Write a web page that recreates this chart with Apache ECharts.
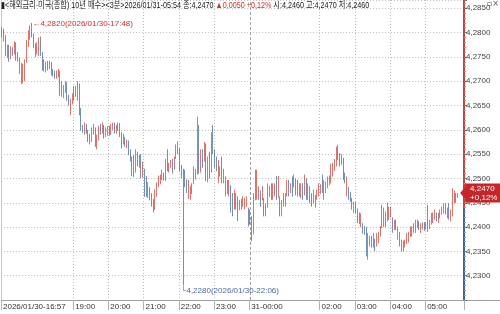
<!DOCTYPE html>
<html><head><meta charset="utf-8">
<script src="https://cdn.jsdelivr.net/npm/echarts@6/dist/echarts.min.js"></script>
<style>html,body{margin:0;padding:0;background:#fff}#c{width:500px;height:314px}</style>
</head><body><div id="c"></div>
<script>
// ---- data (3-minute candles, 2026/01/30 16:57 -> 2026/01/31 05:54) ----
const startHour = 16, startMinute = 57, stepMinutes = 3, padCount = 3;
const opens = [
4.2800,4.2805,4.2790,4.2760,4.2770,4.2745,4.2765,4.2758,4.2778,4.2750,
4.2745,4.2705,4.2712,4.2722,4.2740,4.2780,4.2798,4.2812,4.2795,4.2772,
4.2765,4.2758,4.2790,4.2758,4.2730,4.2725,4.2735,4.2728,4.2738,4.2718,
4.2715,4.2708,4.2712,4.2720,4.2685,4.2675,4.2680,4.2695,4.2668,4.2650,
4.2660,4.2672,4.2685,4.2670,4.2690,4.2640,4.2605,4.2600,4.2610,4.2598,
4.2585,4.2578,4.2598,4.2600,4.2575,4.2585,4.2605,4.2598,4.2608,4.2590,
4.2595,4.2600,4.2592,4.2608,4.2612,4.2598,4.2600,4.2612,4.2590,4.2575,
4.2582,4.2570,4.2575,4.2555,4.2540,4.2510,4.2515,4.2548,4.2530,4.2535,
4.2505,4.2518,4.2470,4.2468,4.2478,4.2462,4.2450,4.2440,4.2470,4.2488,
4.2492,4.2500,4.2508,4.2500,4.2555,4.2515,4.2525,4.2538,4.2520,4.2545,
4.2555,4.2560,4.2520,4.2508,4.2500,4.2495,4.2475,4.2462,4.2485,4.2490,
4.2505,4.2512,4.2600,4.2515,4.2555,4.2540,4.2568,4.2505,4.2540,4.2515,
4.2590,4.2555,4.2530,4.2495,4.2510,4.2540,4.2495,4.2482,4.2495,4.2470,
4.2484,4.2450,4.2440,4.2465,4.2455,4.2438,4.2440,4.2445,4.2442,4.2448,
4.2436,4.2420,4.2415,4.2390,4.2460,4.2470,4.2462,4.2470,4.2458,4.2456,
4.2440,4.2442,4.2470,4.2480,4.2462,4.2470,4.2500,4.2465,4.2455,4.2430,
4.2445,4.2450,4.2465,4.2490,4.2475,4.2498,4.2485,4.2495,4.2490,4.2468,
4.2465,4.2488,4.2470,4.2495,4.2465,4.2480,4.2462,4.2450,4.2463,4.2458,
4.2465,4.2475,4.2505,4.2465,4.2478,4.2485,4.2492,4.2495,4.2510,4.2520,
4.2530,4.2562,4.2548,4.2532,4.2540,4.2508,4.2480,4.2480,4.2470,4.2458,
4.2435,4.2448,4.2435,4.2418,4.2405,4.2405,4.2398,4.2392,4.2355,4.2362,
4.2380,4.2362,4.2374,4.2362,4.2375,4.2385,4.2400,4.2405,4.2430,4.2415,
4.2418,4.2425,4.2418,4.2398,4.2412,4.2385,4.2388,4.2372,4.2365,4.2360,
4.2368,4.2372,4.2385,4.2382,4.2390,4.2392,4.2400,4.2408,4.2392,4.2398,
4.2408,4.2398,4.2418,4.2398,4.2408,4.2412,4.2418,4.2428,4.2412,4.2420,
4.2428,4.2432,4.2446,4.2425,4.2445,4.2420,4.2428,4.2460,4.2468,4.2460];
const closes = [
4.2805,4.2790,4.2760,4.2770,4.2745,4.2765,4.2758,4.2778,4.2750,4.2745,
4.2722,4.2730,4.2725,4.2740,4.2780,4.2800,4.2812,4.2795,4.2772,4.2765,
4.2775,4.2788,4.2758,4.2730,4.2725,4.2735,4.2728,4.2738,4.2718,4.2715,
4.2708,4.2718,4.2720,4.2685,4.2675,4.2680,4.2695,4.2668,4.2655,4.2660,
4.2672,4.2685,4.2675,4.2695,4.2640,4.2605,4.2600,4.2610,4.2598,4.2585,
4.2578,4.2598,4.2605,4.2575,4.2585,4.2605,4.2598,4.2608,4.2590,4.2595,
4.2600,4.2592,4.2608,4.2612,4.2598,4.2605,4.2612,4.2590,4.2575,4.2582,
4.2570,4.2575,4.2555,4.2540,4.2510,4.2505,4.2548,4.2530,4.2535,4.2505,
4.2518,4.2470,4.2468,4.2475,4.2462,4.2450,4.2438,4.2470,4.2488,4.2500,
4.2505,4.2515,4.2500,4.2535,4.2520,4.2530,4.2535,4.2515,4.2540,4.2565,
4.2570,4.2520,4.2508,4.2500,4.2488,4.2475,4.2480,4.2480,4.2472,4.2520,
4.2515,4.2610,4.2515,4.2540,4.2528,4.2568,4.2505,4.2540,4.2515,4.2590,
4.2555,4.2528,4.2520,4.2530,4.2522,4.2495,4.2510,4.2495,4.2475,4.2480,
4.2440,4.2430,4.2465,4.2440,4.2420,4.2450,4.2455,4.2455,4.2456,4.2458,
4.2408,4.2412,4.2385,4.2465,4.2512,4.2500,4.2480,4.2448,4.2478,4.2425,
4.2428,4.2485,4.2482,4.2465,4.2480,4.2488,4.2462,4.2500,4.2440,4.2450,
4.2460,4.2465,4.2490,4.2470,4.2485,4.2470,4.2500,4.2475,4.2468,4.2485,
4.2485,4.2462,4.2500,4.2462,4.2480,4.2455,4.2448,4.2470,4.2445,4.2470,
4.2485,4.2486,4.2472,4.2490,4.2488,4.2500,4.2502,4.2525,4.2528,4.2535,
4.2555,4.2545,4.2530,4.2542,4.2505,4.2495,4.2495,4.2460,4.2458,4.2440,
4.2445,4.2432,4.2410,4.2412,4.2418,4.2390,4.2388,4.2345,4.2378,4.2374,
4.2362,4.2385,4.2355,4.2380,4.2385,4.2400,4.2430,4.2432,4.2405,4.2430,
4.2432,4.2438,4.2392,4.2412,4.2398,4.2395,4.2365,4.2355,4.2358,4.2372,
4.2385,4.2385,4.2395,4.2398,4.2405,4.2408,4.2410,4.2398,4.2405,4.2408,
4.2396,4.2405,4.2398,4.2412,4.2425,4.2420,4.2430,4.2415,4.2425,4.2432,
4.2440,4.2445,4.2432,4.2435,4.2420,4.2430,4.2465,4.2468,4.2455,4.2470];
const lows = [
4.2790,4.2782,4.2752,4.2748,4.2740,4.2745,4.2752,4.2755,4.2742,4.2740,
4.2715,4.2694,4.2696,4.2700,4.2738,4.2770,4.2785,4.2790,4.2768,4.2750,
4.2755,4.2752,4.2752,4.2722,4.2720,4.2718,4.2722,4.2725,4.2712,4.2710,
4.2705,4.2705,4.2708,4.2670,4.2668,4.2665,4.2676,4.2660,4.2650,4.2630,
4.2652,4.2660,4.2668,4.2660,4.2630,4.2598,4.2594,4.2590,4.2592,4.2575,
4.2570,4.2575,4.2590,4.2565,4.2560,4.2578,4.2590,4.2592,4.2582,4.2585,
4.2588,4.2588,4.2590,4.2600,4.2592,4.2592,4.2598,4.2585,4.2562,4.2570,
4.2565,4.2562,4.2548,4.2535,4.2505,4.2503,4.2512,4.2525,4.2522,4.2500,
4.2502,4.2462,4.2462,4.2460,4.2455,4.2442,4.2430,4.2435,4.2462,4.2482,
4.2488,4.2497,4.2496,4.2495,4.2515,4.2512,4.2522,4.2510,4.2518,4.2540,
4.2550,4.2515,4.2500,4.2280,4.2482,4.2470,4.2458,4.2456,4.2468,4.2488,
4.2498,4.2508,4.2510,4.2512,4.2522,4.2535,4.2495,4.2492,4.2500,4.2512,
4.2550,4.2522,4.2515,4.2490,4.2504,4.2490,4.2490,4.2463,4.2468,4.2463,
4.2430,4.2422,4.2436,4.2436,4.2412,4.2435,4.2436,4.2442,4.2436,4.2442,
4.2401,4.2405,4.2371,4.2385,4.2455,4.2456,4.2456,4.2442,4.2455,4.2422,
4.2422,4.2440,4.2462,4.2456,4.2456,4.2463,4.2456,4.2460,4.2422,4.2422,
4.2442,4.2442,4.2463,4.2463,4.2470,4.2463,4.2482,4.2465,4.2463,4.2463,
4.2460,4.2456,4.2465,4.2456,4.2456,4.2449,4.2442,4.2449,4.2440,4.2456,
4.2463,4.2468,4.2470,4.2456,4.2470,4.2480,4.2486,4.2490,4.2504,4.2515,
4.2525,4.2538,4.2525,4.2528,4.2497,4.2490,4.2463,4.2456,4.2452,4.2436,
4.2429,4.2428,4.2408,4.2406,4.2400,4.2386,4.2384,4.2340,4.2333,4.2360,
4.2358,4.2358,4.2350,4.2360,4.2367,4.2380,4.2398,4.2400,4.2400,4.2412,
4.2415,4.2420,4.2388,4.2394,4.2394,4.2374,4.2360,4.2350,4.2350,4.2358,
4.2365,4.2368,4.2380,4.2380,4.2388,4.2388,4.2398,4.2394,4.2388,4.2395,
4.2392,4.2395,4.2390,4.2396,4.2405,4.2408,4.2415,4.2412,4.2408,4.2418,
4.2425,4.2428,4.2426,4.2418,4.2415,4.2412,4.2422,4.2449,4.2450,4.2460];
const highs = [
4.2812,4.2808,4.2795,4.2775,4.2775,4.2772,4.2770,4.2782,4.2780,4.2760,
4.2748,4.2738,4.2735,4.2745,4.2785,4.2805,4.2815,4.2820,4.2798,4.2778,
4.2780,4.2790,4.2792,4.2760,4.2745,4.2740,4.2742,4.2742,4.2740,4.2725,
4.2722,4.2722,4.2725,4.2722,4.2700,4.2692,4.2700,4.2698,4.2672,4.2664,
4.2675,4.2690,4.2690,4.2700,4.2695,4.2645,4.2610,4.2615,4.2612,4.2600,
4.2592,4.2605,4.2612,4.2605,4.2590,4.2608,4.2612,4.2615,4.2610,4.2605,
4.2608,4.2608,4.2612,4.2615,4.2615,4.2610,4.2615,4.2614,4.2595,4.2592,
4.2585,4.2580,4.2578,4.2560,4.2545,4.2548,4.2560,4.2555,4.2548,4.2550,
4.2535,4.2520,4.2505,4.2492,4.2482,4.2470,4.2458,4.2478,4.2492,4.2506,
4.2508,4.2518,4.2512,4.2540,4.2560,4.2532,4.2538,4.2540,4.2545,4.2570,
4.2576,4.2562,4.2528,4.2520,4.2518,4.2498,4.2497,4.2484,4.2490,4.2525,
4.2520,4.2627,4.2610,4.2560,4.2560,4.2575,4.2572,4.2545,4.2555,4.2595,
4.2610,4.2560,4.2545,4.2538,4.2525,4.2545,4.2520,4.2504,4.2497,4.2497,
4.2486,4.2470,4.2477,4.2470,4.2463,4.2456,4.2458,4.2463,4.2460,4.2463,
4.2440,4.2436,4.2422,4.2470,4.2518,4.2518,4.2484,4.2475,4.2484,4.2460,
4.2448,4.2490,4.2485,4.2490,4.2490,4.2490,4.2505,4.2505,4.2463,4.2456,
4.2470,4.2470,4.2497,4.2497,4.2490,4.2504,4.2508,4.2500,4.2497,4.2490,
4.2490,4.2490,4.2508,4.2500,4.2490,4.2484,4.2470,4.2477,4.2466,4.2477,
4.2490,4.2488,4.2508,4.2497,4.2494,4.2504,4.2506,4.2530,4.2532,4.2540,
4.2565,4.2569,4.2552,4.2550,4.2542,4.2512,4.2504,4.2482,4.2472,4.2460,
4.2452,4.2452,4.2438,4.2430,4.2428,4.2408,4.2402,4.2400,4.2388,4.2382,
4.2382,4.2388,4.2376,4.2388,4.2390,4.2402,4.2446,4.2440,4.2432,4.2450,
4.2442,4.2442,4.2420,4.2415,4.2415,4.2401,4.2390,4.2374,4.2372,4.2374,
4.2388,4.2390,4.2401,4.2402,4.2408,4.2415,4.2415,4.2412,4.2408,4.2410,
4.2410,4.2410,4.2446,4.2415,4.2429,4.2430,4.2436,4.2430,4.2429,4.2436,
4.2442,4.2449,4.2449,4.2440,4.2449,4.2436,4.2480,4.2475,4.2470,4.2470];

const tickTimes  = ['16:57','19:00','20:00','21:00','22:00','23:00','00:00','02:00','03:00','04:00','05:00'];
const tickLabels = ['2026/01/30-16:57','19:00','20:00','21:00','22:00','23:00','31-00:00','02:00','03:00','04:00','05:00'];
const yTicks = [4.2300,4.2350,4.2400,4.2450,4.2500,4.2550,4.2600,4.2650,4.2700,4.2750,4.2800,4.2850];
const yMin = 4.2250, yMax = 4.2867, yStep = 0.005;
const axisSplitPrice = 4.2442;
const highMark = {time:'17:48', value:4.2820, label:'2026/01/30-17:48'};
const lowMark  = {time:'22:06', value:4.2280, label:'2026/01/30-22:06'};
const lastInfo = {time:'2026/01/31-05:54', close:4.2470, change:0.0050, pct:0.12, open:4.2460, high:4.2470, low:4.2460};

// ---- build ----
const pad2 = n => String(n).padStart(2,'0');
const categories = [];
for (let k = 0; k < opens.length + padCount; k++) {
  const t = startHour*60 + startMinute + k*stepMinutes;
  categories.push(pad2(Math.floor(t/60)%24) + ':' + pad2(t%60));
}
const candles = opens.map((o,i)=>[o, closes[i], lows[i], highs[i]]);
const fmt = v => v.toFixed(4).replace('.', ',');
const pctText = '+' + lastInfo.pct.toFixed(2).replace('.', ',') + '%';
const labelOf = {}; tickTimes.forEach((t,i)=>labelOf[t]=tickLabels[i]);

const W = 500, H = 314, GR = 36, GB = 14;
const RED='#cf3f35', BLUE='#3f63a3', BOXRED='#c4262a';
const FONT="'Liberation Sans','Noto Sans CJK KR',sans-serif";
const f = (yMax-axisSplitPrice)/(yMax-yMin);

const chart = echarts.init(document.getElementById('c'), null, {renderer:'canvas'});
chart.setOption({
  animation:false,
  graphic:[{
    type:'text', left:1, top:1, scaleX:0.8, z:10, silent:true,
    style:{
      text:'{b|▮}{t|<해외금리-미국(종합) 10년 매수><3분>'+lastInfo.time+' 종:'+fmt(lastInfo.close)+' }{r|▲'+fmt(lastInfo.change)+' '+pctText+'}{t| 시:'+fmt(lastInfo.open)+' 고:'+fmt(lastInfo.high)+' 저:'+fmt(lastInfo.low)+'}',
      rich:{
        b:{fontSize:9,fill:'#222',fontFamily:'DejaVu Sans'},
        t:{fontSize:9,fill:'#1a1a1a',fontFamily:FONT},
        r:{fontSize:9,fill:'#d0302a',fontFamily:FONT}
      }
    }
  },{
    type:'text', right:1, top:0, silent:true,
    style:{text:'▫×', fontSize:8, fill:'#555', fontFamily:'DejaVu Sans'}
  },{
    type:'line', silent:true, z:0,
    shape:{x1:W-GR, y1:H-GB+0.5, x2:W, y2:H-GB+0.5},
    style:{stroke:'#a0a0a0', lineWidth:1}
  }],
  grid:{left:0,right:GR,top:0,bottom:GB},
  xAxis:{
    type:'category', data:categories, boundaryGap:true,
    axisLine:{show:true,lineStyle:{color:'#a0a0a0',width:1}},
    axisTick:{show:true,length:10,interval:(i,v)=>labelOf[v]!==undefined,lineStyle:{color:'#b0b0b0'}},
    axisLabel:{interval:(i,v)=>labelOf[v]!==undefined, formatter:v=>labelOf[v]||'', align:'left', margin:3,
      fontSize:8, color:'#333', fontFamily:FONT, padding:[0,0,0,1]},
    splitLine:{show:true,interval:(i,v)=>labelOf[v]!==undefined && v!=='00:00' && v!=='16:57',
      lineStyle:{color:'#bcbcbc',type:[1,2]}}
  },
  yAxis:[{
    type:'value', position:'right', min:yMin, max:yMax, interval:yStep,
    axisLine:{show:true,lineStyle:{width:2,color:new echarts.graphic.LinearGradient(0,0,0,1,[
      {offset:0,color:RED},{offset:f,color:RED},{offset:f,color:BLUE},{offset:1,color:BLUE}])}},
    axisTick:{show:true,length:3,lineStyle:{color:'#777'}},
    minorTick:{show:true,splitNumber:5,length:2,lineStyle:{color:'#999'}},
    axisLabel:{margin:2, fontSize:8, color:'#444', fontFamily:FONT,
      formatter:v=>yTicks.some(t=>Math.abs(t-v)<1e-6)?fmt(v):''},
    splitLine:{show:true,lineStyle:{color:'#bdbdbd',type:[1,2]}}
  },{
    type:'value', position:'left', min:yMin, max:yMax, show:true,
    axisLine:{show:true,lineStyle:{color:'#c8c8c8',width:1}},
    axisTick:{show:false}, axisLabel:{show:false}, splitLine:{show:false}
  }],
  series:[{
    type:'candlestick', data:candles, barWidth:1, yAxisIndex:0, clip:false,
    itemStyle:{color:RED,color0:BLUE,borderColor:RED,borderColor0:BLUE,borderWidth:0.8,opacity:0.9},
    markLine:{silent:true,symbol:['none','none'],animation:false,data:[
      {xAxis:'00:00', lineStyle:{color:'#a0a0a0',type:[3,2],width:1}, label:{show:false}}
    ]},
    markPoint:{silent:true,animation:false,data:[
      {coord:[highMark.time, highMark.value], symbol:'circle', symbolSize:1, itemStyle:{color:'rgba(0,0,0,0)'},
        label:{show:true,position:'right',distance:0,offset:[0,1],formatter:'←'+fmt(highMark.value)+'('+highMark.label+')',
          color:'#d0302a',fontSize:8,fontFamily:FONT}},
      {coord:[lowMark.time, lowMark.value], symbol:'circle', symbolSize:1, itemStyle:{color:'rgba(0,0,0,0)'},
        label:{show:true,position:'right',distance:0,offset:[-3,5],formatter:'└'+fmt(lowMark.value)+'('+lowMark.label+')',
          color:'#4a6aa8',fontSize:8,fontFamily:FONT}},
      {coord:[categories.length-1, lastInfo.close], symbol:'triangle', symbolRotate:90, symbolSize:[14,6],
        itemStyle:{color:BOXRED},
        label:{show:true,position:'right',distance:-1,formatter:fmt(lastInfo.close)+'\n'+pctText,
          backgroundColor:BOXRED,color:'#fff',fontSize:8,lineHeight:9,padding:[1,5,0,5],fontFamily:FONT}}
    ]}
  }]
});
</script></body></html>
